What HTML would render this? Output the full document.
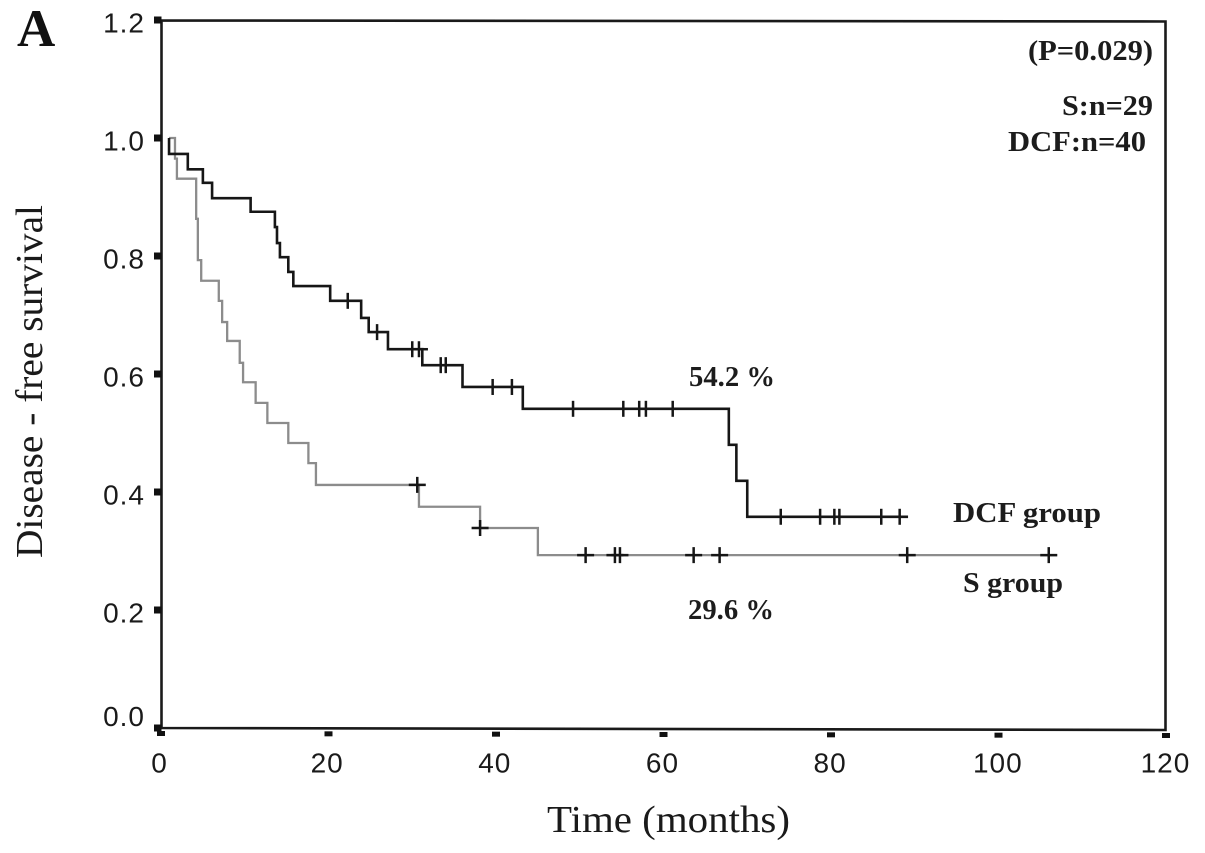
<!DOCTYPE html>
<html lang="en">
<head>
<meta charset="utf-8">
<title>Disease-free survival Kaplan-Meier plot</title>
<style>
html,body{margin:0;padding:0;background:#fff;}
svg{display:block;}
.tick{font-family:"Liberation Sans",sans-serif;font-size:28px;letter-spacing:1px;fill:#1a1a1a;}
.ann{font-family:"Liberation Serif",serif;font-weight:bold;font-size:28px;fill:#1c1c1c;}
.title{font-family:"Liberation Serif",serif;font-size:38px;fill:#1a1a1a;}
</style>
</head>
<body>
<svg id="chart" xmlns="http://www.w3.org/2000/svg" width="1205" height="853" viewBox="0 0 1205 853">
  <rect x="0" y="0" width="1205" height="853" fill="#fff"/>
  <polygon points="161.5,20.5 1165.5,21.5 1165.5,730 161.5,728" fill="none" stroke="#1a1a1a" stroke-width="2.6"/>
  <g id="axes"></g>
  <g id="marks"></g>
  <text x="17" y="46" font-family="Liberation Serif, serif" font-weight="bold" font-size="53" fill="#111">A</text>
  <text class="ann" x="1028" y="60" textLength="125" lengthAdjust="spacingAndGlyphs">(P=0.029)</text>
  <text class="ann" x="1062" y="115" textLength="91" lengthAdjust="spacingAndGlyphs">S:n=29</text>
  <text class="ann" x="1008" y="151" textLength="138" lengthAdjust="spacingAndGlyphs">DCF:n=40</text>
  <text class="ann" x="689" y="386" textLength="86" lengthAdjust="spacingAndGlyphs">54.2 %</text>
  <text class="ann" x="688" y="619" textLength="86" lengthAdjust="spacingAndGlyphs">29.6 %</text>
  <text class="ann" x="953" y="522" textLength="148" lengthAdjust="spacingAndGlyphs">DCF group</text>
  <text class="ann" x="963" y="592" textLength="100" lengthAdjust="spacingAndGlyphs">S group</text>
  <text class="title" x="547" y="832" textLength="243" lengthAdjust="spacingAndGlyphs">Time (months)</text>
  <text class="title" transform="translate(42,558) rotate(-90)" x="0" y="0" textLength="353" lengthAdjust="spacingAndGlyphs">Disease - free survival</text>
</svg>
<script>
const xTickValues = [0, 20, 40, 60, 80, 100, 120];
const yTickValues = [0.0, 0.2, 0.4, 0.6, 0.8, 1.0, 1.2];
const xTickLabels = ["0", "20", "40", "60", "80", "100", "120"];
const yTickLabels = ["0.0", "0.2", "0.4", "0.6", "0.8", "1.0", "1.2"];

const dcfTimes = [0.96, 3.2, 5.0, 6.1, 10.7, 13.6, 13.85, 14.2, 15.2, 15.8, 20.2, 23.9, 24.8, 27.1, 31.2, 36.0, 43.2, 67.8, 68.7, 70.0];
const dcfSurvival = [0.973, 0.947, 0.924, 0.898, 0.875, 0.849, 0.822, 0.798, 0.773, 0.749, 0.724, 0.695, 0.671, 0.642, 0.615, 0.578, 0.541, 0.480, 0.419, 0.358];
const dcfEndTime = 89.2;
const dcfCensored = [22.3, 25.8, 30.0, 30.8, 33.4, 34.0, 39.6, 41.9, 49.2, 55.2, 57.1, 57.9, 61.1, 74.0, 78.7, 80.4, 81.0, 86.0, 88.2];
const dcfCrossed = [30.8];

const sTimes = [1.67, 1.9, 4.2, 4.4, 4.8, 6.9, 7.3, 7.9, 9.4, 9.8, 11.3, 12.7, 15.2, 17.6, 18.5, 30.8, 38.1, 45.0];
const sSurvival = [0.965, 0.931, 0.863, 0.793, 0.758, 0.724, 0.688, 0.656, 0.619, 0.586, 0.551, 0.517, 0.483, 0.449, 0.412, 0.375, 0.339, 0.293];
const sStartTime = 0.96;
const sEndTime = 107.0;
const sCensored = [30.6, 38.1, 50.7, 54.2, 54.8, 63.6, 66.7, 89.1, 106.0];

const NS = "http://www.w3.org/2000/svg";
const axesLayer = document.getElementById("axes");
const marksLayer = document.getElementById("marks");

function xScale(t) { return 161 + t * 8.375; }
function yScale(v) { return 728 - v * 590; }
function xLabelScale(t) { return 159.5 + t * 8.383; }

function make(tag, parent, attrs, text) {
  const el = document.createElementNS(NS, tag);
  for (const k in attrs) el.setAttribute(k, attrs[k]);
  if (text !== undefined) el.textContent = text;
  parent.appendChild(el);
  return el;
}

function survivalAt(times, values, t) {
  let v = 1;
  for (let i = 0; i < times.length; i++) { if (t >= times[i]) v = values[i]; }
  return v;
}

function stepPath(start, times, values, end) {
  let d = "M" + xScale(start) + " " + yScale(1);
  let prev = 1;
  for (let i = 0; i < times.length; i++) {
    d += "L" + xScale(times[i]) + " " + yScale(prev);
    d += "L" + xScale(times[i]) + " " + yScale(values[i]);
    prev = values[i];
  }
  d += "L" + xScale(end) + " " + yScale(prev);
  return d;
}

xTickValues.forEach(function (t, i) {
  const mark = make("rect", axesLayer, { x: xScale(t) - 4, y: 731 + t / 60, width: 8, height: 5, fill: "#111" });
  
  
  const label = make("text", axesLayer, { x: xLabelScale(t), y: 772.5, "text-anchor": "middle", "class": "tick" }, xTickLabels[i]);
  
  
});

yTickValues.forEach(function (v, i) {
  const mark = make("rect", axesLayer, { x: 154, y: yScale(v) - 3.5, width: 7.5, height: 7, fill: "#111" });
  
  
  const base = v === 0 ? yScale(v) - 2 : yScale(v) + 12.5;
  const label = make("text", axesLayer, { x: 145, y: base, "text-anchor": "end", "class": "tick" }, yTickLabels[i]);
  
  
});

const sLine = make("path", marksLayer, { d: stepPath(sStartTime, sTimes, sSurvival, sEndTime), fill: "none", stroke: "#8c8c8c", "stroke-width": 2.3 });



const dcfLine = make("path", marksLayer, { d: stepPath(dcfTimes[0], dcfTimes, dcfSurvival, dcfEndTime), fill: "none", stroke: "#161616", "stroke-width": 2.6 });



dcfCensored.forEach(function (t) {
  const cx = xScale(t);
  const cy = yScale(survivalAt(dcfTimes, dcfSurvival, t));
  const tick = make("path", marksLayer, { d: "M" + cx + " " + (cy - 8) + "V" + (cy + 8), stroke: "#161616", "stroke-width": 2.5, fill: "none" });
  
  
});

dcfCrossed.forEach(function (t) {
  const cy = yScale(survivalAt(dcfTimes, dcfSurvival, t));
  const arm = make("path", marksLayer, { d: "M" + xScale(t) + " " + cy + "H" + (xScale(t) + 9), stroke: "#161616", "stroke-width": 2.5, fill: "none" });
  
  
});

sCensored.forEach(function (t) {
  const cx = xScale(t);
  const cy = yScale(survivalAt(sTimes, sSurvival, t));
  const cross = make("path", marksLayer, { d: "M" + cx + " " + (cy - 8) + "V" + (cy + 8) + "M" + (cx - 8.5) + " " + cy + "H" + (cx + 8.5), stroke: "#161616", "stroke-width": 2.5, fill: "none" });
  
  
});
</script>
</body>
</html>
